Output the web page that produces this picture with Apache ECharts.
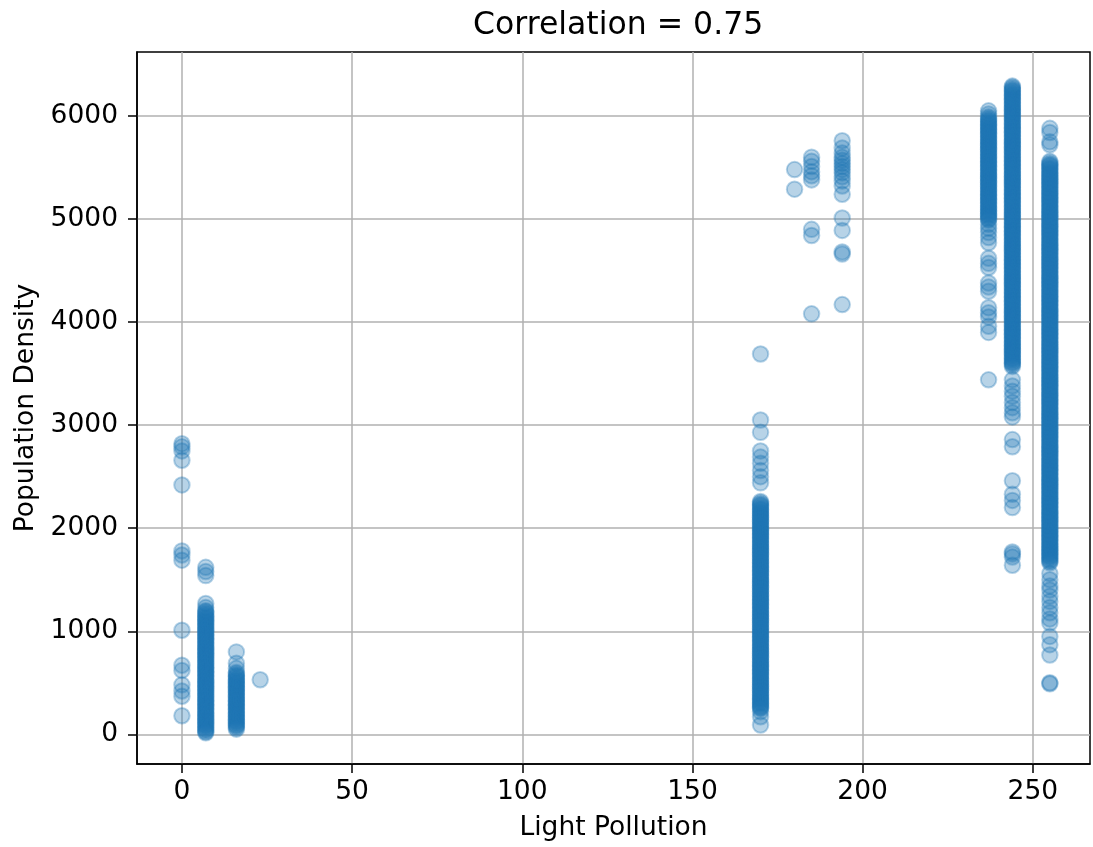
<!DOCTYPE html>
<html>
<head>
<meta charset="utf-8">
<script src="https://cdn.jsdelivr.net/npm/echarts@6/dist/echarts.min.js"></script>
<style>
html,body{margin:0;padding:0;background:#fff;}
#chart{width:1093px;height:847px;}
</style>
</head>
<body>
<div id="chart"></div>
<script>
// Light pollution levels (x) present in the data
const levels = [0, 7, 16, 23, 170, 180, 185, 194, 237, 244, 255];

const density0 = [2820, 2790, 2750, 2660, 2420, 1780, 1740, 1690, 1010, 670, 620, 480, 420, 370, 180];
const density7 = [1620, 1580, 1540, 1270, 1230, 1200, 1190, 1175, 1160, 1145, 1130, 1120, 1105, 1090, 1080, 1065, 1050, 1040, 1025, 1010, 1000, 985, 970, 960, 945, 930, 920, 905, 890, 880, 865, 850, 840, 825, 810, 800, 785, 770, 760, 745, 730, 720, 705, 690, 680, 665, 650, 640, 625, 610, 600, 585, 570, 560, 545, 530, 520, 505, 490, 480, 465, 450, 440, 425, 410, 400, 385, 370, 360, 345, 330, 320, 305, 290, 280, 265, 250, 240, 225, 210, 200, 185, 170, 160, 145, 130, 120, 105, 90, 80, 65, 50, 40, 25, 15];
const density16 = [800, 690, 640, 600, 585, 570, 560, 545, 530, 520, 505, 490, 480, 465, 450, 440, 425, 410, 400, 385, 370, 360, 345, 330, 320, 305, 290, 280, 265, 250, 240, 225, 210, 200, 185, 170, 160, 145, 130, 120, 105, 90, 80, 65, 50];
const density23 = [530];
const density170 = [3690, 3050, 2930, 2750, 2690, 2630, 2560, 2500, 2440, 2260, 2245, 2230, 2220, 2205, 2190, 2180, 2165, 2150, 2140, 2125, 2110, 2100, 2085, 2070, 2060, 2045, 2030, 2020, 2005, 1990, 1980, 1965, 1950, 1940, 1925, 1910, 1900, 1885, 1870, 1860, 1845, 1830, 1820, 1805, 1790, 1780, 1765, 1750, 1740, 1725, 1710, 1700, 1685, 1670, 1660, 1645, 1630, 1620, 1605, 1590, 1580, 1565, 1550, 1540, 1525, 1510, 1500, 1485, 1470, 1460, 1445, 1430, 1420, 1405, 1390, 1380, 1365, 1350, 1340, 1325, 1310, 1300, 1285, 1270, 1260, 1245, 1230, 1220, 1205, 1190, 1180, 1165, 1150, 1140, 1125, 1110, 1100, 1085, 1070, 1060, 1045, 1030, 1020, 1005, 990, 980, 965, 950, 940, 925, 910, 900, 885, 870, 860, 845, 830, 820, 805, 790, 780, 765, 750, 740, 725, 710, 700, 685, 670, 660, 645, 630, 620, 605, 590, 580, 565, 550, 540, 525, 510, 500, 485, 470, 460, 445, 430, 420, 405, 390, 380, 365, 350, 340, 325, 310, 300, 285, 270, 260, 250, 220, 170, 90];
const density180 = [5480, 5290];
const density185 = [5600, 5560, 5510, 5460, 5420, 5380, 4900, 4840, 4080];
const density194 = [5760, 5690, 5640, 5600, 5570, 5540, 5510, 5480, 5450, 5410, 5370, 5320, 5240, 5010, 4890, 4680, 4660, 4170];
const density237 = [6050, 6020, 5990, 5975, 5960, 5950, 5935, 5920, 5910, 5895, 5880, 5870, 5855, 5840, 5830, 5815, 5800, 5790, 5775, 5760, 5750, 5735, 5720, 5710, 5695, 5680, 5670, 5655, 5640, 5630, 5615, 5600, 5590, 5575, 5560, 5550, 5535, 5520, 5510, 5495, 5480, 5470, 5455, 5440, 5430, 5415, 5400, 5390, 5375, 5360, 5350, 5335, 5320, 5310, 5295, 5280, 5270, 5255, 5240, 5230, 5215, 5200, 5190, 5175, 5160, 5150, 5135, 5120, 5110, 5095, 5080, 5070, 5055, 5040, 5030, 5015, 5000, 4990, 4950, 4910, 4870, 4820, 4770, 4620, 4570, 4530, 4380, 4340, 4300, 4140, 4090, 4050, 3960, 3900, 3440];
const density244 = [6290, 6280, 6265, 6250, 6240, 6225, 6210, 6200, 6185, 6170, 6160, 6145, 6130, 6120, 6105, 6090, 6080, 6065, 6050, 6040, 6025, 6010, 6000, 5985, 5970, 5960, 5945, 5930, 5920, 5905, 5890, 5880, 5865, 5850, 5840, 5825, 5810, 5800, 5785, 5770, 5760, 5745, 5730, 5720, 5705, 5690, 5680, 5665, 5650, 5640, 5625, 5610, 5600, 5585, 5570, 5560, 5545, 5530, 5520, 5505, 5490, 5480, 5465, 5450, 5440, 5425, 5410, 5400, 5385, 5370, 5360, 5345, 5330, 5320, 5305, 5290, 5280, 5265, 5250, 5240, 5225, 5210, 5200, 5185, 5170, 5160, 5145, 5130, 5120, 5105, 5090, 5080, 5065, 5050, 5040, 5025, 5010, 5000, 4985, 4970, 4960, 4945, 4930, 4920, 4905, 4890, 4880, 4865, 4850, 4840, 4825, 4810, 4800, 4785, 4770, 4760, 4745, 4730, 4720, 4705, 4690, 4680, 4665, 4650, 4640, 4625, 4610, 4600, 4585, 4570, 4560, 4545, 4530, 4520, 4505, 4490, 4480, 4465, 4450, 4440, 4425, 4410, 4400, 4385, 4370, 4360, 4345, 4330, 4320, 4305, 4290, 4280, 4265, 4250, 4240, 4225, 4210, 4200, 4185, 4170, 4160, 4145, 4130, 4120, 4105, 4090, 4080, 4065, 4050, 4040, 4025, 4010, 4000, 3985, 3970, 3960, 3945, 3930, 3920, 3905, 3890, 3880, 3865, 3850, 3840, 3825, 3810, 3800, 3785, 3770, 3760, 3745, 3730, 3720, 3705, 3690, 3680, 3665, 3650, 3640, 3625, 3610, 3600, 3585, 3570, 3440, 3380, 3330, 3280, 3220, 3170, 3120, 3080, 2860, 2790, 2460, 2330, 2270, 2200, 1770, 1750, 1720, 1640];
const density255 = [5880, 5840, 5750, 5720, 5560, 5545, 5530, 5520, 5505, 5490, 5480, 5465, 5450, 5440, 5425, 5410, 5400, 5385, 5370, 5360, 5345, 5330, 5320, 5305, 5290, 5280, 5265, 5250, 5240, 5225, 5210, 5200, 5185, 5170, 5160, 5145, 5130, 5120, 5105, 5090, 5080, 5065, 5050, 5040, 5025, 5010, 5000, 4985, 4970, 4960, 4945, 4930, 4920, 4905, 4890, 4880, 4865, 4850, 4840, 4825, 4810, 4800, 4785, 4770, 4760, 4745, 4730, 4720, 4705, 4690, 4680, 4665, 4650, 4640, 4625, 4610, 4600, 4585, 4570, 4560, 4545, 4530, 4520, 4505, 4490, 4480, 4465, 4450, 4440, 4425, 4410, 4400, 4385, 4370, 4360, 4345, 4330, 4320, 4305, 4290, 4280, 4265, 4250, 4240, 4225, 4210, 4200, 4185, 4170, 4160, 4145, 4130, 4120, 4105, 4090, 4080, 4065, 4050, 4040, 4025, 4010, 4000, 3985, 3970, 3960, 3945, 3930, 3920, 3905, 3890, 3880, 3865, 3850, 3840, 3825, 3810, 3800, 3785, 3770, 3760, 3745, 3730, 3720, 3705, 3690, 3680, 3665, 3650, 3640, 3625, 3610, 3600, 3585, 3570, 3560, 3545, 3530, 3520, 3505, 3490, 3480, 3465, 3450, 3440, 3425, 3410, 3400, 3385, 3370, 3360, 3345, 3330, 3320, 3305, 3290, 3280, 3265, 3250, 3240, 3225, 3210, 3200, 3185, 3170, 3160, 3145, 3130, 3120, 3105, 3090, 3080, 3065, 3050, 3040, 3025, 3010, 3000, 2985, 2970, 2960, 2945, 2930, 2920, 2905, 2890, 2880, 2865, 2850, 2840, 2825, 2810, 2800, 2785, 2770, 2760, 2745, 2730, 2720, 2705, 2690, 2680, 2665, 2650, 2640, 2625, 2610, 2600, 2585, 2570, 2560, 2545, 2530, 2520, 2505, 2490, 2480, 2465, 2450, 2440, 2425, 2410, 2400, 2385, 2370, 2360, 2345, 2330, 2320, 2305, 2290, 2280, 2265, 2250, 2240, 2225, 2210, 2200, 2185, 2170, 2160, 2145, 2130, 2120, 2105, 2090, 2080, 2065, 2050, 2040, 2025, 2010, 2000, 1985, 1970, 1960, 1945, 1930, 1920, 1905, 1890, 1880, 1865, 1850, 1840, 1825, 1810, 1800, 1785, 1770, 1760, 1745, 1730, 1720, 1705, 1690, 1680, 1665, 1560, 1500, 1440, 1400, 1340, 1290, 1230, 1180, 1120, 1080, 950, 870, 770, 500, 490];

const densityByLevel = [density0, density7, density16, density23, density170, density180, density185, density194, density237, density244, density255];

// Tick labels
const xTicks = [0, 50, 100, 150, 200, 250];
const yTicks = [0, 1000, 2000, 3000, 4000, 5000, 6000];

const titleText = 'Correlation = 0.75';
const xName = 'Light Pollution';
const yName = 'Population Density';

const points = [];
levels.forEach((lv, i) => {
  densityByLevel[i].forEach(v => points.push([lv, v]));
});

const chart = echarts.init(document.getElementById('chart'), null, {renderer: 'canvas'});
const font = 'DejaVu Sans';
chart.setOption({
  animation: false,
  backgroundColor: '#ffffff',
  title: {
    text: titleText,
    left: 468,
    top: 5,
    textStyle: {fontFamily: font, fontSize: 31.5, fontWeight: 'normal', color: '#000'}
  },
  grid: {
    left: 137, top: 52, width: 953, height: 712,
    show: true, borderColor: '#000', borderWidth: 1.5, backgroundColor: 'transparent'
  },
  xAxis: {
    type: 'value',
    min: -13.2, max: 266.8,
    name: xName,
    nameLocation: 'middle',
    nameGap: 51,
    nameTextStyle: {fontFamily: font, fontSize: 26.5, color: '#000'},
    axisLine: {show: true, onZero: false, lineStyle: {color: '#000', width: 1.5}},
    axisTick: {show: true, customValues: xTicks, length: 9, lineStyle: {color: '#000', width: 1.5}},
    axisLabel: {customValues: xTicks, fontFamily: font, fontSize: 26.5, color: '#000', margin: 15, formatter: v => String(v)},
    splitLine: {show: true, lineStyle: {color: '#b0b0b0', width: 1.5}}
  },
  yAxis: {
    type: 'value',
    min: -288, max: 6621,
    name: yName,
    nameLocation: 'middle',
    nameGap: 96,
    nameTextStyle: {fontFamily: font, fontSize: 26.5, color: '#000'},
    axisLine: {show: true, onZero: false, lineStyle: {color: '#000', width: 1.5}},
    axisTick: {show: true, customValues: yTicks, length: 9, lineStyle: {color: '#000', width: 1.5}},
    axisLabel: {customValues: yTicks, fontFamily: font, fontSize: 26.5, color: '#000', margin: 19, formatter: v => String(v)},
    splitLine: {show: true, lineStyle: {color: '#b0b0b0', width: 1.5}}
  },
  series: [{
    type: 'scatter',
    data: points,
    symbol: 'circle',
    symbolSize: 15.5,
    progressive: 0,
    large: false,
    itemStyle: {color: 'rgba(31,119,180,0.4)', borderColor: 'rgba(31,119,180,0.4)', borderWidth: 2},
    emphasis: {disabled: true}
  }]
});
</script>
</body>
</html>
